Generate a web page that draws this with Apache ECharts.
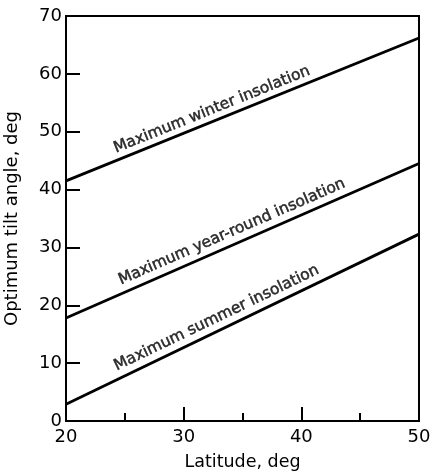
<!DOCTYPE html>
<html><head><meta charset="utf-8">
<script src="https://cdn.jsdelivr.net/npm/echarts@6/dist/echarts.min.js"></script>
<style>html,body{margin:0;padding:0;background:#fff}#c{width:434px;height:471px}</style>
</head><body><div id="c"></div>
<script>
const latitudes = [20, 50];
const winter = [41.5, 66.2];
const yearRound = [17.8, 44.5];
const summer = [2.9, 32.3];
const labelTexts = ['Maximum winter insolation', 'Maximum year-round insolation', 'Maximum summer insolation'];
const labelAnchors = [[32.4, 53.8], [34.1, 32.7], [32.8, 17.8]];
const labelAngles = [22, 23.5, 25.7];

const font = 'DejaVu Sans';
const chart = echarts.init(document.getElementById('c'));
const lineSeries = (vals) => ({
  type: 'line', data: latitudes.map((x, i) => [x, vals[i]]), symbol: 'none',
  lineStyle: {color: '#000', width: 2.8}, silent: true
});
const labelSeries = labelTexts.map((t, i) => ({
  type: 'scatter', data: [labelAnchors[i]], symbolSize: 0, silent: true,
  label: {show: true, position: 'inside', formatter: t, rotate: labelAngles[i],
    color: '#000', fontFamily: font, fontSize: 15.5, textBorderColor: '#000', textBorderWidth: 0.5}
}));
chart.setOption({
  animation: false,
  grid: {left: 66, right: 15, top: 16, bottom: 50, show: true, borderColor: '#000', borderWidth: 2,
    containLabel: false, outerBoundsMode: 'none'},
  xAxis: {
    type: 'value', min: 20, max: 50, interval: 10,
    name: 'Latitude, deg', nameLocation: 'middle', nameGap: 32,
    nameTextStyle: {fontFamily: font, fontSize: 17.5, color: '#000'},
    axisLine: {lineStyle: {color: '#000', width: 2}},
    axisTick: {inside: true, length: 14, lineStyle: {color: '#000', width: 2}},
    minorTick: {show: true, splitNumber: 2, length: 8, lineStyle: {color: '#000', width: 2}},
    axisLabel: {fontFamily: font, fontSize: 18, color: '#000', margin: 7},
    splitLine: {show: false}
  },
  yAxis: {
    type: 'value', min: 0, max: 70, interval: 10,
    name: 'Optimum tilt angle, deg', nameLocation: 'middle', nameGap: 45,
    nameTextStyle: {fontFamily: font, fontSize: 18, color: '#000'},
    axisLine: {lineStyle: {color: '#000', width: 2}},
    axisTick: {inside: true, length: 14, lineStyle: {color: '#000', width: 2}},
    axisLabel: {fontFamily: font, fontSize: 18, color: '#000', margin: 4},
    splitLine: {show: false}
  },
  series: [lineSeries(winter), lineSeries(yearRound), lineSeries(summer), ...labelSeries]
});
</script></body></html>
